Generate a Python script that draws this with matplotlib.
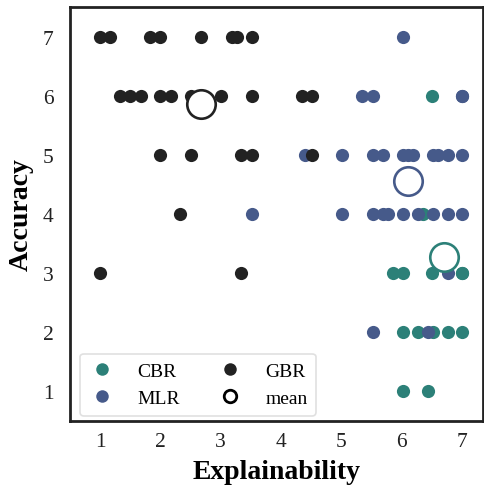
import matplotlib
matplotlib.use("Agg")
import matplotlib.pyplot as plt
from matplotlib.lines import Line2D

# Ratings per model: (explainability, accuracy)
cbr_x = [6.51, 6.35, 5.85, 6.02, 6.51, 7.0, 7.0, 6.02, 6.27, 6.52, 6.77, 7.0, 6.02, 6.43]
cbr_y = [6, 4, 3, 3, 3, 3, 3, 2, 2, 2, 2, 2, 1, 1]

mlr_x = [6.02, 5.34, 5.52, 7.0, 7.0,
         4.40, 5.01, 5.52, 5.69, 6.02, 6.10, 6.19, 6.52, 6.60, 6.77, 7.0,
         3.52, 5.01, 5.52, 5.69, 5.77, 6.02, 6.27, 6.52, 6.77, 7.0,
         6.77, 5.52, 6.43]
mlr_y = [7, 6, 6, 6, 6,
         5, 5, 5, 5, 5, 5, 5, 5, 5, 5, 5,
         4, 4, 4, 4, 4, 4, 4, 4, 4, 4,
         3, 2, 2]

gbr_x = [1.0, 1.17, 1.83, 2.0, 2.67, 3.19, 3.27, 3.52,
         1.33, 1.5, 1.67, 2.0, 2.17, 2.5, 2.67, 3.0, 3.52, 4.35, 4.51,
         2.0, 2.5, 3.33, 3.52, 4.51,
         2.33,
         1.0, 3.33]
gbr_y = [7, 7, 7, 7, 7, 7, 7, 7,
         6, 6, 6, 6, 6, 6, 6, 6, 6, 6, 6,
         5, 5, 5, 5, 5,
         4,
         3, 3]

# Group means
mean_x = {"CBR": 6.70, "MLR": 6.10, "GBR": 2.67}
mean_y = {"CBR": 3.27, "MLR": 4.56, "GBR": 5.86}

colors = {"CBR": "#2c8078", "MLR": "#465a8a", "GBR": "#222222"}

plt.rcParams["font.family"] = ["Liberation Serif", "DejaVu Serif"]

fig = plt.figure(figsize=(4.84, 4.89), dpi=100)
ax = fig.add_axes([70 / 484, 1 - 422 / 489, 413 / 484, 414 / 489])

dot = 90
ax.scatter(cbr_x, cbr_y, s=dot, color=colors["CBR"], linewidths=0, zorder=2)
ax.scatter(mlr_x, mlr_y, s=dot, color=colors["MLR"], linewidths=0, zorder=3)
ax.scatter(gbr_x, gbr_y, s=dot, color=colors["GBR"], linewidths=0, zorder=4)

for name in ["CBR", "MLR", "GBR"]:
    ax.scatter([mean_x[name]], [mean_y[name]], s=420, facecolor="white",
               edgecolor=colors[name], linewidths=1.9, zorder=5)

ax.set_xlim(0.5, 7.35)
ax.set_ylim(0.5, 7.5)
ax.set_xticks(range(1, 8))
ax.set_yticks(range(1, 8))
ax.tick_params(length=0, labelsize=15.5, colors="#222222")
ax.tick_params(axis="y", pad=12)
ax.tick_params(axis="x", pad=8)
for sp in ax.spines.values():
    sp.set_linewidth(2.0)
    sp.set_color("#222222")

ax.set_xlabel("Explainability", fontsize=20, fontweight="bold", labelpad=6)
ax.set_ylabel("Accuracy", fontsize=20, fontweight="bold", labelpad=6)

handles = [
    Line2D([], [], linestyle="none", marker="o", markersize=9,
           markerfacecolor=colors["CBR"], markeredgewidth=0, label="CBR"),
    Line2D([], [], linestyle="none", marker="o", markersize=9,
           markerfacecolor=colors["MLR"], markeredgewidth=0, label="MLR"),
    Line2D([], [], linestyle="none", marker="o", markersize=9,
           markerfacecolor=colors["GBR"], markeredgewidth=0, label="GBR"),
    Line2D([], [], linestyle="none", marker="o", markersize=9,
           markerfacecolor="white", markeredgecolor="black",
           markeredgewidth=2.0, label="mean"),
]
leg = ax.legend(handles=handles, ncol=2, loc="lower left", fontsize=14,
                frameon=True, fancybox=True, framealpha=1,
                edgecolor="#e0e0e0", columnspacing=1.9, handletextpad=1.1,
                handlelength=1.4, borderpad=0.45, labelspacing=0.5,
                borderaxespad=0, bbox_to_anchor=(0.024, 0.012))
leg.get_frame().set_linewidth(1.2)

fig.savefig("out.png", dpi=100)
